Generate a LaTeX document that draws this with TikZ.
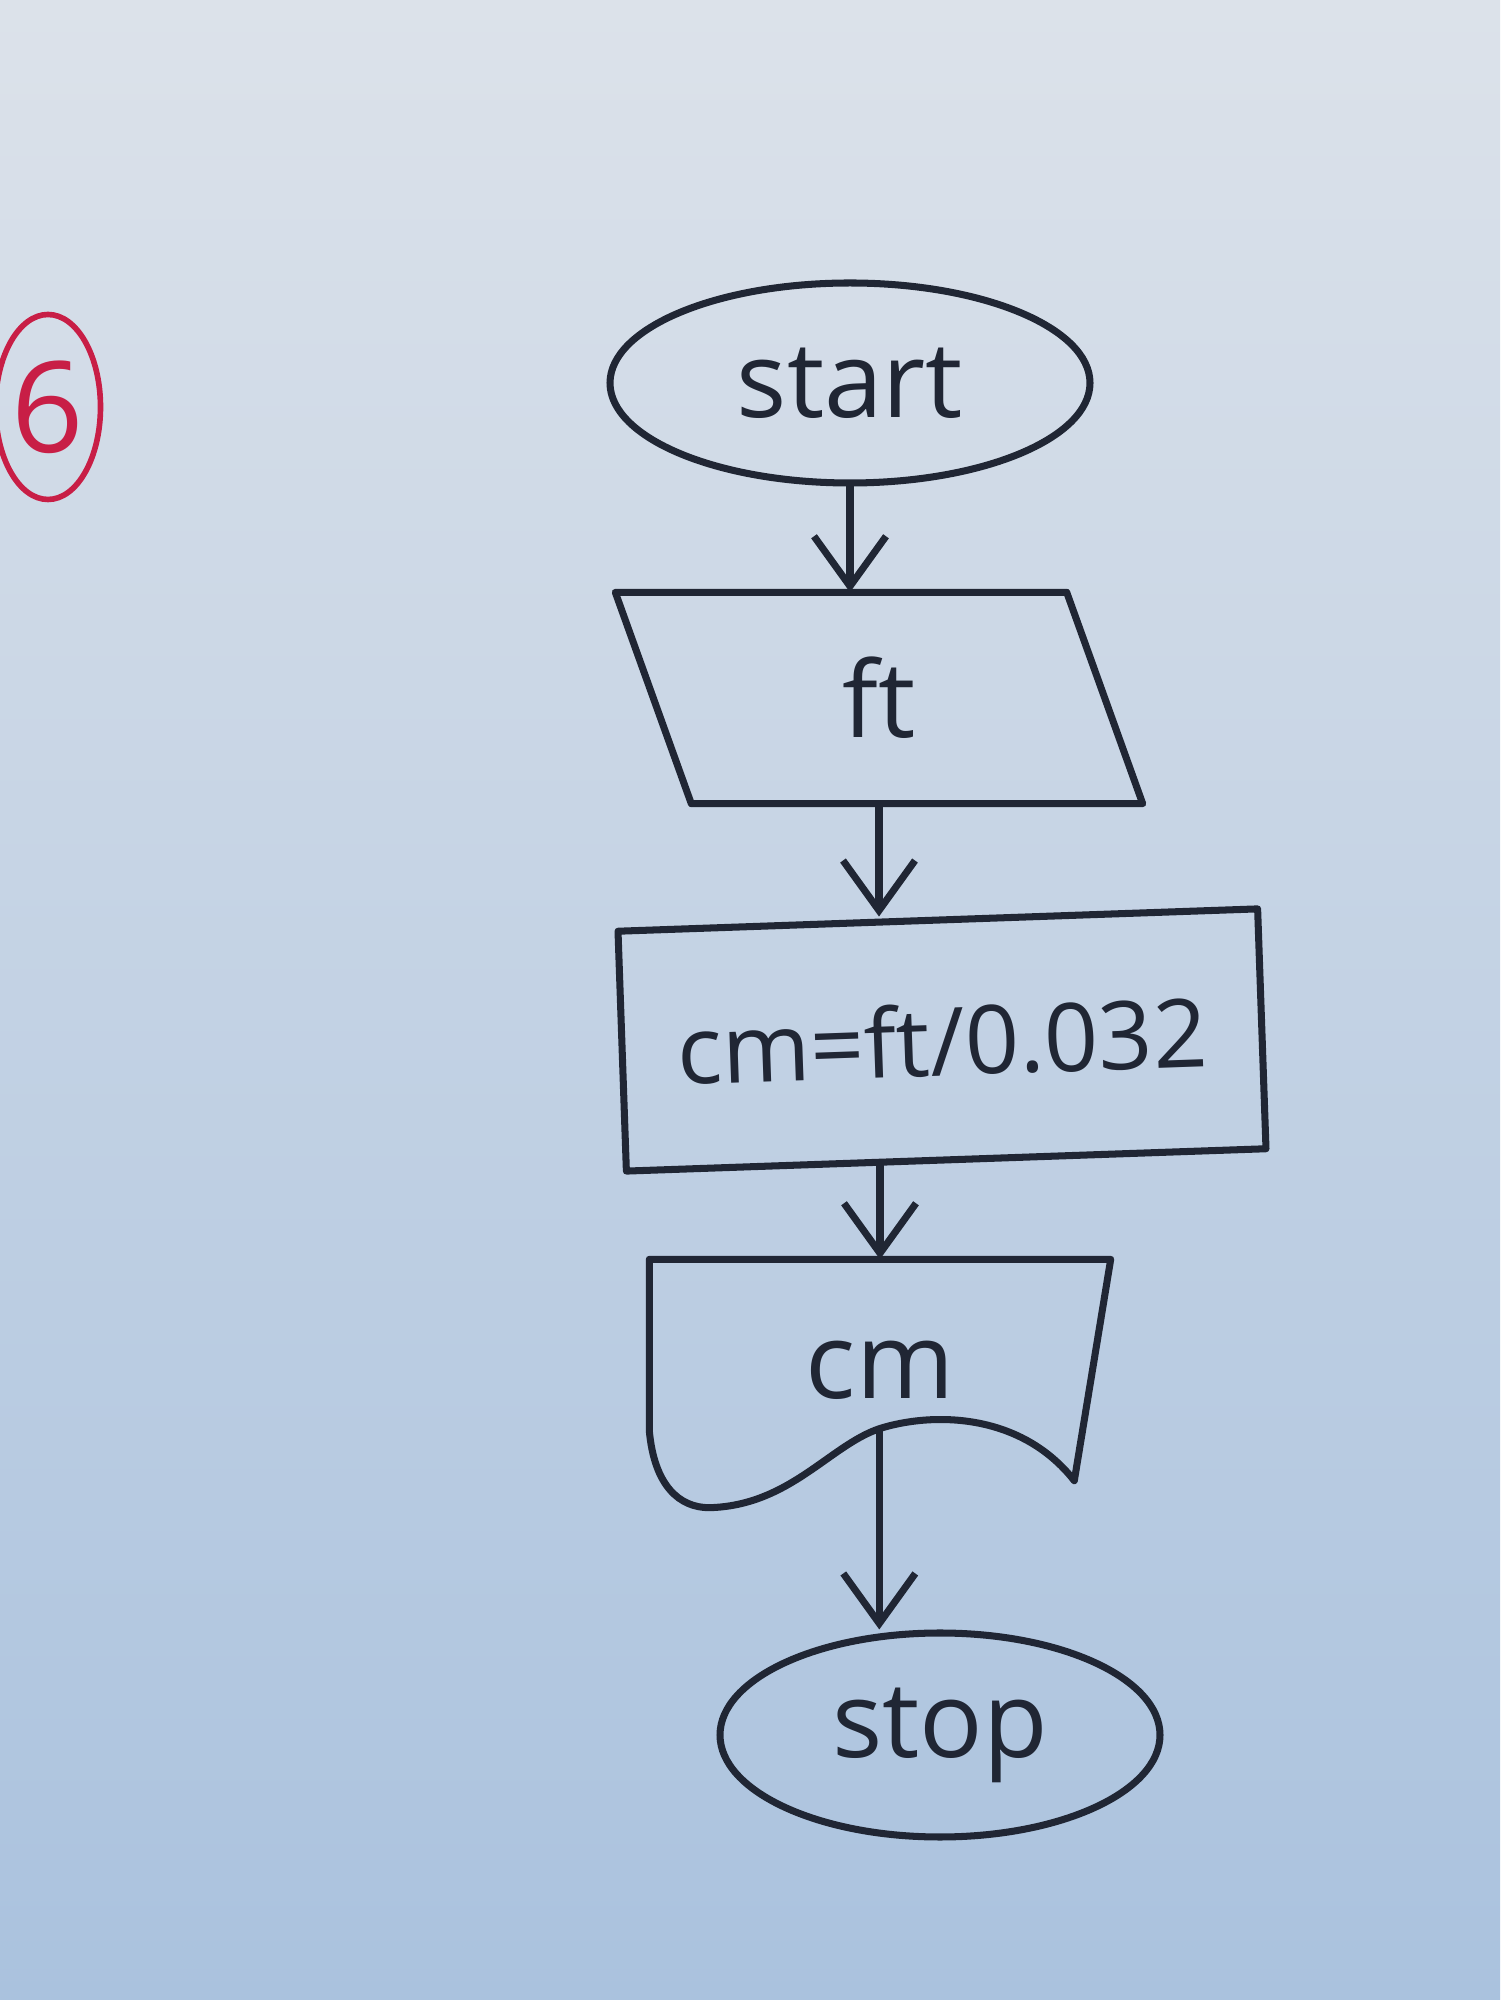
\documentclass[tikz,border=0pt]{standalone}
\usepackage{fontspec}
\setmainfont{Open Sans}
\usetikzlibrary{shapes.geometric,arrows.meta,calc}
\definecolor{ink}{RGB}{32, 38, 52}
\definecolor{markred}{RGB}{200, 30, 70}
\definecolor{papertop}{RGB}{220, 226, 234}
\definecolor{paperbottom}{RGB}{170, 194, 222}

\begin{document}
\begin{tikzpicture}[
    shapeline/.style={draw=ink, line width=2pt, line join=round},
    flowarrow/.style={draw=ink, line width=2pt, -{Straight Barb[length=0.5cm, width=0.72cm]}},
    flowtext/.style={text=ink, font=\fontsize{30}{36}\selectfont}
]
    % Paper
    \fill[top color=papertop, bottom color=paperbottom] (0,0) rectangle (15,20);
    \useasboundingbox (0,0) rectangle (15,20);

    % Question number
    \node[ellipse, draw=markred, line width=1.6pt, text=markred, inner sep=0pt, minimum width=1.05cm, minimum height=1.85cm, font=\fontsize{36}{40}\selectfont] (qnum) at (0.48,15.93) {6};

    % Flow
    \node[ellipse, shapeline, flowtext, minimum width=4.8cm, minimum height=2cm] (start) at (8.5,16.17) {start};
    \node[flowtext, minimum width=4.5cm, minimum height=2.1cm] (input) at (8.79,13.02) {ft};
    \node[rectangle, shapeline, flowtext, rotate=2, minimum width=6.4cm, minimum height=2.4cm, font=\fontsize{27}{32}\selectfont] (calc) at (9.42,9.6) {cm=ft/0.032};
    \node[flowtext, minimum width=4.6cm, minimum height=2.2cm] (output) at (8.8,6.3) {cm};
    \node[ellipse, shapeline, flowtext, minimum width=4.4cm, minimum height=2.04cm] (stop) at (9.4,2.65) {stop};

    % Parallelogram outline
    \draw[shapeline] ($(input.north west)+(-0.38,0)$) -- ($(input.north east)+(-0.38,0)$)
        -- ($(input.south east)+(0.38,0)$) -- ($(input.south west)+(0.38,0)$) -- cycle;

    % Document outline
    \draw[shapeline] (output.north west) -- ($(output.south west)+(0,0.5)$)
        .. controls ($(output.south west)+(0.05,-0.05)$) and ($(output.south west)+(0.3,-0.27)$) .. ($(output.south west)+(0.6,-0.27)$)
        .. controls ($(output.south west)+(1.4,-0.25)$) and ($(output.south west)+(1.8,0.35)$) .. ($(output.south west)+(2.3,0.52)$) coordinate (outwave)
        .. controls ($(output.south west)+(2.8,0.68)$) and ($(output.south west)+(3.7,0.7)$) .. ($(output.south west)+(4.25,0)$)
        -- (output.north east) -- cycle;

    % Arrows
    \draw[flowarrow] (start.south) -- (start.south |- input.north);
    \draw[flowarrow] (input.south) -- (input.south |- calc.north);
    \draw[flowarrow] (calc.south -| output.north) -- (output.north);
    \draw[flowarrow] (outwave) -- (outwave |- stop.north);
\end{tikzpicture}
\end{document}
